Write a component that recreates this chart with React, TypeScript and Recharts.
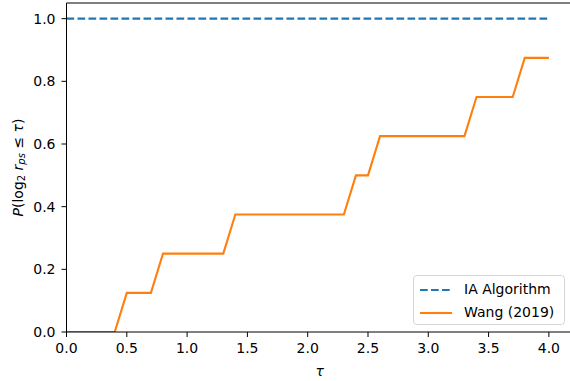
import { LineChart, Line, XAxis, YAxis, ReferenceLine } from 'recharts'

// performance profile: fraction of problems solved within factor 2^tau of the best
const tauIA = [0, 4.0]
const probIA = [1.0, 1.0]

const tauWang = [0, 0.4, 0.5, 0.7, 0.8, 1.3, 1.4, 2.3, 2.4, 2.5, 2.6, 3.3, 3.4, 3.7, 3.8, 4.0]
const probWang = [0, 0, 0.125, 0.125, 0.25, 0.25, 0.375, 0.375, 0.5, 0.5, 0.625, 0.625, 0.75, 0.75, 0.875, 0.875]

const xTicks = [0, 0.5, 1.0, 1.5, 2.0, 2.5, 3.0, 3.5, 4.0]
const yTicks = [0, 0.2, 0.4, 0.6, 0.8, 1.0]

const seriesNames = ['IA Algorithm', 'Wang (2019)']

const BLUE = '#1f77b4'
const ORANGE = '#ff7f0e'
const FONT = '"DejaVu Sans", sans-serif'

const iaData = tauIA.map((t, i) => ({ tau: t, p: probIA[i] }))
const wangData = tauWang.map((t, i) => ({ tau: t, p: probWang[i] }))

const YLabel = () => (
	<text
		x={18}
		y={167.5}
		transform="rotate(-90 18 167.5)"
		textAnchor="middle"
		dominantBaseline="central"
		fontSize={14}
		fontFamily={FONT}
		fill="#000"
	>
		<tspan fontStyle="italic">P</tspan>
		<tspan>(log</tspan>
		<tspan fontSize={10} dy={3}>2</tspan>
		<tspan fontStyle="italic" dy={-3}> r</tspan>
		<tspan fontStyle="italic" fontSize={10} dy={3}>ps</tspan>
		<tspan dy={-3}> ≤ </tspan>
		<tspan fontStyle="italic">τ</tspan>
		<tspan>)</tspan>
	</text>
)

// legend box sits in the lower right corner of the axes
const LegendBox = () => (
	<div
		style={{
			position: 'absolute',
			left: 413,
			top: 275,
			width: 152,
			height: 50,
			border: '1px solid #d6d6d6',
			borderRadius: 4,
			background: 'rgba(255,255,255,0.8)',
			padding: '2px 0 0 5px',
			fontFamily: FONT,
			fontSize: 14,
			color: '#000',
			lineHeight: '23px',
			boxSizing: 'border-box'
		}}
	>
		{seriesNames.map((name, i) => (
			<div key={name} style={{ display: 'flex', alignItems: 'center' }}>
				<svg width={34} height={10} style={{ marginRight: 11 }}>
					<line
						x1={1}
						y1={5}
						x2={33}
						y2={5}
						stroke={i === 0 ? BLUE : ORANGE}
						strokeWidth={2.1}
						strokeDasharray={i === 0 ? '7.7 3.3' : undefined}
					/>
				</svg>
				<span>{name}</span>
			</div>
		))}
	</div>
)

export default function App() {
	return (
		<div
			style={{
				position: 'absolute',
				left: 0,
				top: 0,
				width: 570,
				height: 381,
				overflow: 'hidden',
				background: '#fff'
			}}
		>
			<LineChart width={590} height={381} margin={{ top: 3, right: 17, bottom: 19, left: 0 }}>
				<XAxis
					type="number"
					dataKey="tau"
					domain={[0, 4.2]}
					ticks={xTicks}
					tickFormatter={(v: number) => v.toFixed(1)}
					allowDataOverflow
					height={30}
					tickSize={5}
					tickMargin={6}
					stroke="#000"
					tick={{ fill: '#000', fontSize: 14, fontFamily: FONT }}
					label={{
						value: 'τ',
						position: 'insideBottom',
						offset: -14,
						fontSize: 14,
						fontFamily: FONT,
						fontStyle: 'italic',
						fill: '#000'
					}}
				/>
				<YAxis
					type="number"
					domain={[0, 1.05]}
					ticks={yTicks}
					tickFormatter={(v: number) => v.toFixed(1)}
					allowDataOverflow
					width={66.5}
					tickSize={5}
					tickMargin={6}
					stroke="#000"
					tick={{ fill: '#000', fontSize: 14, fontFamily: FONT }}
					label={<YLabel />}
				/>
				<ReferenceLine y={1.05} stroke="#000" strokeWidth={1} />
				<ReferenceLine x={4.2} stroke="#000" strokeWidth={1} />
				<Line
					data={iaData}
					dataKey="p"
					name={seriesNames[0]}
					type="linear"
					stroke={BLUE}
					strokeWidth={2.1}
					strokeDasharray="7.7 3.3"
					dot={false}
					activeDot={false}
					isAnimationActive={false}
				/>
				<Line
					data={wangData}
					dataKey="p"
					name={seriesNames[1]}
					type="linear"
					stroke={ORANGE}
					strokeWidth={2.1}
					dot={false}
					activeDot={false}
					isAnimationActive={false}
				/>
			</LineChart>
			<LegendBox />
		</div>
	)
}
